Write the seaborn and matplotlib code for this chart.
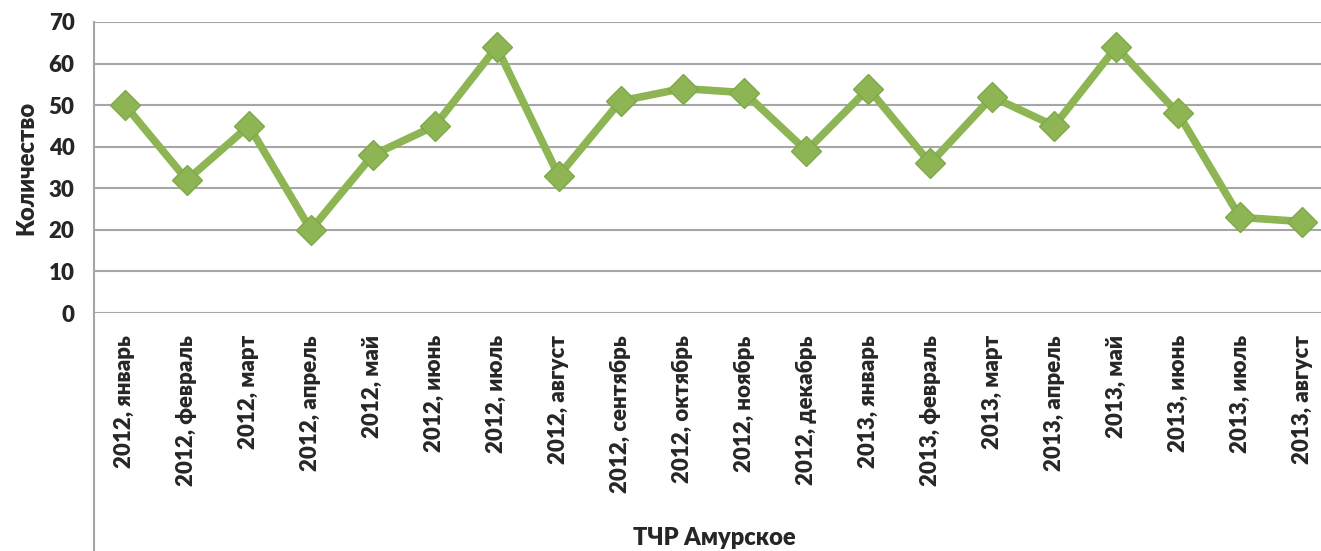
import matplotlib
matplotlib.use("Agg")
import matplotlib.pyplot as plt
import matplotlib.lines as mlines
import seaborn as sns
import pandas as pd

# data
years = ["2012"] * 12 + ["2013"] * 8
months = ["январь", "февраль", "март", "апрель", "май", "июнь", "июль", "август",
          "сентябрь", "октябрь", "ноябрь", "декабрь",
          "январь", "февраль", "март", "апрель", "май", "июнь", "июль", "август"]
counts = [50, 32, 45, 20, 38, 45, 64, 33, 51, 54, 53, 39,
          54, 36, 52, 45, 64, 48, 23, 22]

labels = [f"{y}, {m}" for y, m in zip(years, months)]
df = pd.DataFrame({"period": labels, "count": counts})

sns.set_style("white")
plt.rcParams["font.family"] = ["Lato", "DejaVu Sans"]

W, H = 1321, 551
fig = plt.figure(figsize=(W / 100, H / 100), dpi=100)
# axes box in pixels: left 94, top 22, bottom 313, right beyond the crop
ax = fig.add_axes([94 / W, (H - 313) / H, (1333 - 94) / W, (313 - 22) / H])

green = "#8DB553"
sns.lineplot(data=df, x="period", y="count", sort=False, ax=ax,
             color=green, linewidth=5.5, marker="D", markersize=15,
             markeredgecolor="#7FA84A", markeredgewidth=1, zorder=3)

ax.set_ylim(0, 70)
ax.set_yticks(range(0, 71, 10))
ax.set_xlim(-0.5, len(labels) - 0.5)
ax.yaxis.grid(True, color="#A6A6A6", linewidth=1.5)
ax.set_axisbelow(True)

for s in ["top", "right", "bottom"]:
    ax.spines[s].set_visible(False)
ax.spines["left"].set_color("#A6A6A6")
ax.spines["left"].set_linewidth(1.5)

ax.tick_params(axis="y", length=0, pad=14, labelsize=16)
ax.tick_params(axis="x", length=0, pad=16, labelsize=16, labelrotation=90)
for t in ax.get_xticklabels() + ax.get_yticklabels():
    t.set_fontweight("heavy")

ax.set_ylabel("Количество", fontsize=17, fontweight="heavy", labelpad=8)
ax.set_xlabel("")

# left axis line continues down through the label area
fig.add_artist(mlines.Line2D([94 / W, 94 / W], [0, (H - 313) / H],
                             transform=fig.transFigure, color="#A6A6A6", linewidth=1.5))
fig.text(714 / W, (H - 538) / H, "ТЧР Амурское", ha="center", va="center",
         fontsize=17, fontweight="heavy")

fig.savefig("out.png", dpi=100)
